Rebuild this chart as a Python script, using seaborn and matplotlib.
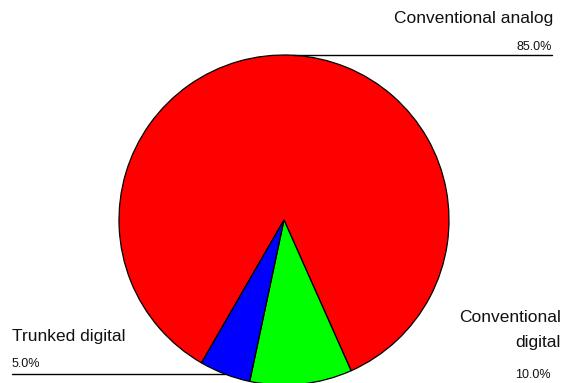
import numpy as np
import matplotlib
matplotlib.use("Agg")
import matplotlib.pyplot as plt
import seaborn as sns

categories = ["Conventional analog", "Conventional digital", "Trunked digital"]
shares = [85.0, 10.0, 5.0]
colors = ["#ff0000", "#00ff00", "#0000ff"]

sns.set_theme(style="white")
plt.rcParams["font.family"] = ["Liberation Sans", "DejaVu Sans"]

W, H = 564, 383
fig = plt.figure(figsize=(W / 100, H / 100), dpi=100)
ax = fig.add_axes([0, 0, 1, 1])

wedges, _ = ax.pie(shares, colors=colors, startangle=240, counterclock=False,
                   radius=1, wedgeprops=dict(edgecolor="black", linewidth=0.9))

# pie centre / radius in pixels
cx, cy, r = 284, 220, 165
ax.set_xlim(-cx / r, (W - cx) / r)
ax.set_ylim(-(H - cy) / r, cy / r)
ax.set_aspect("equal", adjustable="datalim")
ax.axis("off")


def px(x):
    return (x - cx) / r


def mid(w):
    a = np.deg2rad((w.theta1 + w.theta2) / 2)
    return np.cos(a), np.sin(a)


# leader lines
line_end = {0: px(552), 1: px(552), 2: px(12)}
for i, w in enumerate(wedges):
    mx, my = mid(w)
    ax.plot([mx, line_end[i]], [my, my], color="black", lw=1)

# labels (pixel coords from top)
def ftxt(x, y, s, size, ha):
    fig.text(x / W, 1 - y / H, s, fontsize=size, ha=ha, va="center", color="#111111")

ftxt(553, 18, categories[0], 12.5, "right")
ftxt(552, 47, f"{shares[0]:.1f}%", 9, "right")
ftxt(561, 318, "Conventional", 12.5, "right")
ftxt(561, 342, "digital", 12.5, "right")
ftxt(551, 375, f"{shares[1]:.1f}%", 9, "right")
ftxt(12, 337, categories[2], 12.5, "left")
ftxt(12, 364, f"{shares[2]:.1f}%", 9, "left")

fig.savefig("out.png", dpi=100, facecolor="white")
